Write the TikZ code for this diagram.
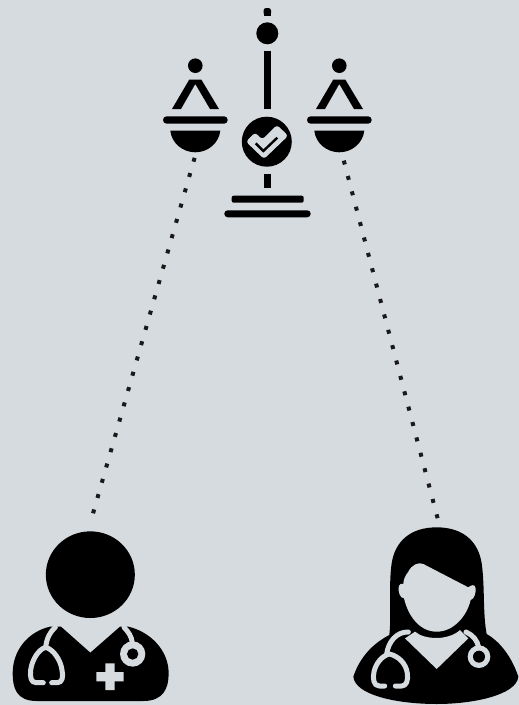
\documentclass[tikz,border=0pt]{standalone}
\definecolor{bgc}{HTML}{D6DBDF}
\tikzset{
  ink/.style={fill=black,draw=none},
  lite/.style={fill=bgc,draw=none},
  tube/.style={draw=bgc,line width=5pt,line cap=round,line join=round},
  dots/.style={draw=black!90,line width=4pt,dash pattern=on 4pt off 11.9pt},
  pz/.style={x=0.33333pt,y=-0.33333pt}
}
\newcommand{\pan}[1]{%
  \begin{scope}[shift={(#1,0)}]
    \fill[ink] (195.3,65.7) circle (7.3);
    \fill[ink] (189.3,79.5) -- (201.3,79.5) -- (219,109) -- (210,109) -- (195.3,84) -- (181,109) -- (172,109) -- cycle;
    \fill[ink,rounded corners=3.6pt] (163,116.3) rectangle (227.7,123.7);
    \fill[ink] (170.3,130.7) -- (220.3,130.7) .. controls (219,143) and (208,152.3) .. (195.3,152.3) .. controls (182.6,152.3) and (171.6,143) .. (170.3,130.7) -- cycle;
  \end{scope}}
\begin{document}
\begin{tikzpicture}[x=1pt,y=-1pt]
\useasboundingbox (0,0) rectangle (519,705);
\fill[bgc] (0,0) rectangle (519,705);
% connectors
\coordinate (leftpan) at (194.6,157.8);
\coordinate (leftdoc) at (92,517);
\coordinate (rightpan) at (343.8,160.6);
\coordinate (rightdoc) at (437.8,519);
\draw[dots] (leftpan) -- (leftdoc);
\draw[dots] (rightpan) -- (rightdoc);
% scale
\fill[ink,rounded corners=2.5pt] (263.6,15.5) -- (263.6,8) -- (271,8) -- (271,15.5) -- cycle;
\fill[ink] (263.6,12) rectangle (271,15.5);
\fill[ink] (267.3,33.3) circle (11);
\fill[ink] (263.6,51) rectangle (271.2,109);
\pan{0}
\pan{144}
\fill[ink] (266.8,141.7) circle (25);
\fill[bgc,rounded corners=3pt] (246,141.7) -- (255,132.5) -- (262.3,139.5) -- (277,125) -- (288.2,135.7) -- (264,159) -- cycle;
\draw[black,line width=2.4pt,line cap=butt,line join=miter] (255.7,143.3) -- (263.3,151) -- (277.3,137.7);
\fill[ink] (263.6,174) rectangle (271.2,188.3);
\fill[ink,rounded corners=2pt] (231.7,202.7) -- (231.7,195.7) -- (303.7,195.7) -- (303.7,202.7) -- cycle;
\fill[ink,rounded corners=3.4pt] (224.3,210.3) rectangle (310.7,217.3);
% male doctor
\begin{scope}[shift={(0,500)},pz]
  \fill[ink] (271,224) ellipse [x radius=133.5,y radius=130];
  \fill[ink] (150,380) .. controls (85,395) and (38,450) .. (38,520)
     .. controls (38,565) and (50,603) .. (110,603) -- (430,603)
     .. controls (490,603) and (506,565) .. (506,520)
     .. controls (506,450) and (450,395) .. (385,380)
     -- (360,380) -- (271,458) -- (183,380) -- cycle;
  \draw[tube] (166,382) .. controls (150,395) and (140,415) .. (137,442);
  \draw[tube] (130,548) -- (108,548) .. controls (92,548) and (90,530) .. (92,510) .. controls (96,480) and (115,448) .. (137,442) .. controls (160,448) and (182,480) .. (186,510) .. controls (190,530) and (188,548) .. (172,548) -- (155,548);
  \draw[tube] (372,382) .. controls (385,395) and (395,410) .. (397,428);
  \fill[lite] (398,462) circle (38);
  \fill[ink] (398,462) circle (17);
  \fill[lite] (316,490) -- (344,490) -- (344,516) -- (371,516) -- (371,544) -- (344,544) -- (344,570) -- (316,570) -- (316,544) -- (289,544) -- (289,516) -- (316,516) -- cycle;
\end{scope}
% female doctor
\begin{scope}[shift={(340,500)},pz]
  \fill[ink] (290,82) .. controls (370,82) and (415,125) .. (425,190)
    .. controls (435,260) and (428,340) .. (440,402)
    .. controls (480,425) and (515,470) .. (535,530)
    .. controls (530,585) and (400,612) .. (290,612)
    .. controls (170,612) and (45,585) .. (40,530)
    .. controls (60,470) and (100,430) .. (148,405)
    .. controls (155,340) and (145,260) .. (155,190)
    .. controls (165,125) and (210,82) .. (290,82) -- cycle;
  \fill[lite] (205,215) .. controls (215,195) and (235,185) .. (250,192)
    -- (385,262) .. controls (390,258) and (405,248) .. (407,265)
    .. controls (408,280) and (402,298) .. (392,300)
    .. controls (380,350) and (340,395) .. (290,395)
    .. controls (240,395) and (205,350) .. (192,295)
    .. controls (180,295) and (174,275) .. (176,262)
    .. controls (178,250) and (186,250) .. (190,252)
    .. controls (190,240) and (195,228) .. (205,215) -- cycle;
  \fill[lite] (195,415) -- (225,395) .. controls (240,408) and (265,414) .. (290,414)
    .. controls (315,414) and (345,405) .. (360,390) -- (385,415) -- (290,507) -- cycle;
  \draw[tube] (205,396) .. controls (170,395) and (145,425) .. (140,462);
  \draw[tube] (134,558) -- (118,558) .. controls (100,558) and (98,535) .. (102,515) .. controls (108,490) and (125,468) .. (148,462) .. controls (175,468) and (198,490) .. (202,520) .. controls (205,540) and (200,558) .. (185,558) -- (166,558);
  \draw[tube] (378,396) .. controls (398,405) and (412,420) .. (416,442);
  \fill[lite] (417,470) circle (34);
  \fill[ink] (417,470) circle (18);
\end{scope}
\end{tikzpicture}
\end{document}
